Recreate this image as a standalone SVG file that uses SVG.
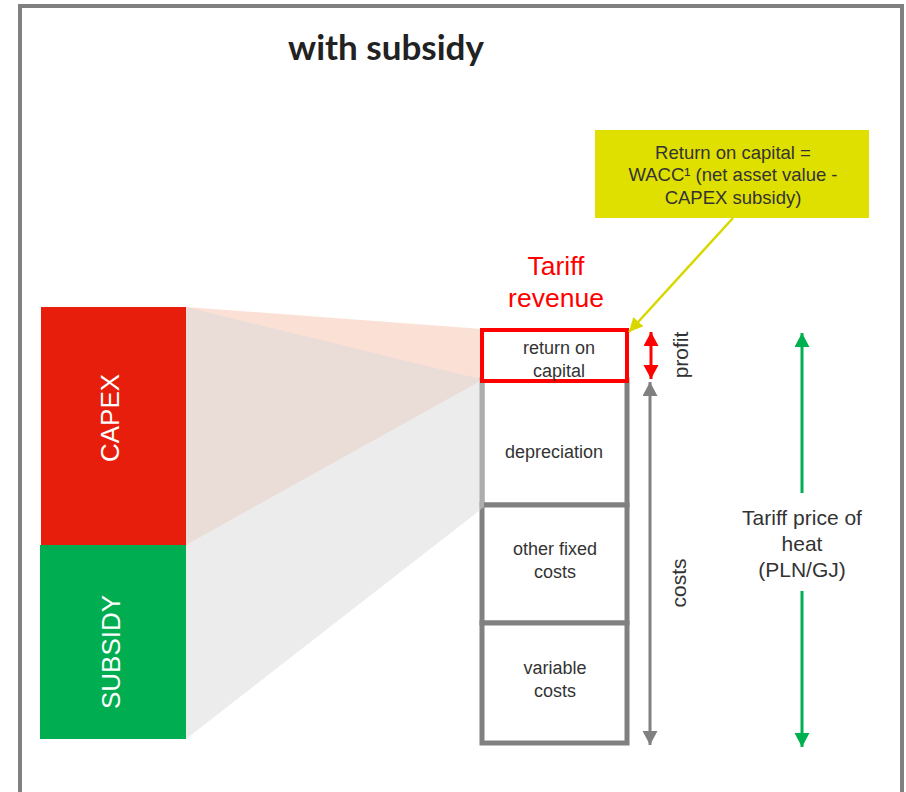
<svg xmlns="http://www.w3.org/2000/svg" width="906" height="792" viewBox="0 0 906 792">
<defs>
<style>
.t{font-family:"Liberation Sans",Arial,sans-serif;fill:#333;text-anchor:middle}
.box{fill:#fff;stroke:#808080;stroke-width:5}
</style>
<marker id="ar" markerUnits="userSpaceOnUse" markerWidth="16" markerHeight="16" refX="14" refY="7.5" orient="auto-start-reverse"><path d="M0,0 L14,7.5 L0,15 Z" fill="#ff0000"/></marker>
<marker id="ag" markerUnits="userSpaceOnUse" markerWidth="16" markerHeight="16" refX="14" refY="7.5" orient="auto-start-reverse"><path d="M0,0 L14,7.5 L0,15 Z" fill="#808080"/></marker>
<marker id="agr" markerUnits="userSpaceOnUse" markerWidth="16" markerHeight="16" refX="14" refY="7.5" orient="auto-start-reverse"><path d="M0,0 L14,7.5 L0,15 Z" fill="#00b050"/></marker>
<marker id="ay" markerUnits="userSpaceOnUse" markerWidth="16" markerHeight="16" refX="14" refY="7" orient="auto"><path d="M0,0 L14,7 L0,14 Z" fill="#d8d800"/></marker>
</defs>
<rect width="906" height="792" fill="#fff"/>
<rect x="20" y="6" width="882" height="800" fill="none" stroke="#808080" stroke-width="4"/>
<text x="386" y="60" font-family="Lato,'Open Sans',sans-serif" font-weight="bold" font-size="35" fill="#222" text-anchor="middle">with subsidy</text>

<g id="capex">
<rect x="41" y="307" width="145" height="238" fill="#e81e0c"/>
<text class="t" transform="translate(119,418) rotate(-90)" font-size="26" style="fill:#fff">CAPEX</text>
</g>
<g id="subsidy">
<rect x="40" y="545" width="146" height="194" fill="#00ad50"/>
<text class="t" transform="translate(120,652) rotate(-90)" font-size="26" style="fill:#fff">SUBSIDY</text>
</g>

<g id="connectors">
<polygon points="186,307 482,329 482,380 186,545" fill="#f8c2ad" opacity="0.5"/>
</g>

<g id="depreciation">
<rect class="box" x="482" y="380" width="145" height="125"/>
<text class="t" x="554" y="458" font-size="18">depreciation</text>
</g>
<g id="other-fixed">
<rect class="box" x="482" y="505" width="145" height="118"/>
<text class="t" x="555" y="555" font-size="18">other fixed</text>
<text class="t" x="555" y="578" font-size="18">costs</text>
</g>
<g id="variable">
<rect class="box" x="482" y="623" width="145" height="120"/>
<text class="t" x="555" y="674" font-size="18">variable</text>
<text class="t" x="555" y="697" font-size="18">costs</text>
</g>

<g id="connectors2">
<polygon points="186,307 484,380 484,507 186,739" fill="#d9d9d9" opacity="0.5"/>
</g>

<g id="return-on-capital">
<rect x="482" y="330" width="145" height="51" fill="#fff" stroke="#ff0000" stroke-width="4"/>
<text class="t" x="559" y="354" font-size="18">return on</text>
<text class="t" x="559" y="377" font-size="18">capital</text>
</g>

<g id="tariff-revenue">
<text x="556" y="275" font-family="'Liberation Sans',Arial,sans-serif" font-size="26.5" fill="#ff0000" text-anchor="middle">Tariff</text>
<text x="556" y="307" font-family="'Liberation Sans',Arial,sans-serif" font-size="26.5" fill="#ff0000" text-anchor="middle">revenue</text>
</g>

<g id="note">
<rect x="595" y="130" width="274" height="88" fill="#e0e000"/>
<text class="t" x="733" y="159" font-size="18.5">Return on capital =</text>
<text class="t" x="733" y="181" font-size="18.5">WACC¹ (net asset value -</text>
<text class="t" x="733" y="204" font-size="18.5">CAPEX subsidy)</text>
</g>

<g id="arrows">
<line x1="733" y1="218" x2="629" y2="332" stroke="#d8d800" stroke-width="2.5" marker-end="url(#ay)"/>
<line x1="651" y1="332" x2="651" y2="379" stroke="#ff0000" stroke-width="3" marker-start="url(#ar)" marker-end="url(#ar)"/>
<line x1="650" y1="382" x2="650" y2="745" stroke="#808080" stroke-width="3" marker-start="url(#ag)" marker-end="url(#ag)"/>
<line x1="802" y1="333" x2="802" y2="493" stroke="#00b050" stroke-width="3" marker-start="url(#agr)"/>
<line x1="802" y1="591" x2="802" y2="747" stroke="#00b050" stroke-width="3" marker-end="url(#agr)"/>
</g>

<g id="labels">
<text class="t" transform="translate(688,355) rotate(-90)" font-size="21">profit</text>
<text class="t" transform="translate(686,583) rotate(-90)" font-size="21">costs</text>
<text class="t" x="802" y="525" font-size="21">Tariff price of</text>
<text class="t" x="802" y="551" font-size="21">heat</text>
<text class="t" x="802" y="577" font-size="21">(PLN/GJ)</text>
</g>
</svg>
